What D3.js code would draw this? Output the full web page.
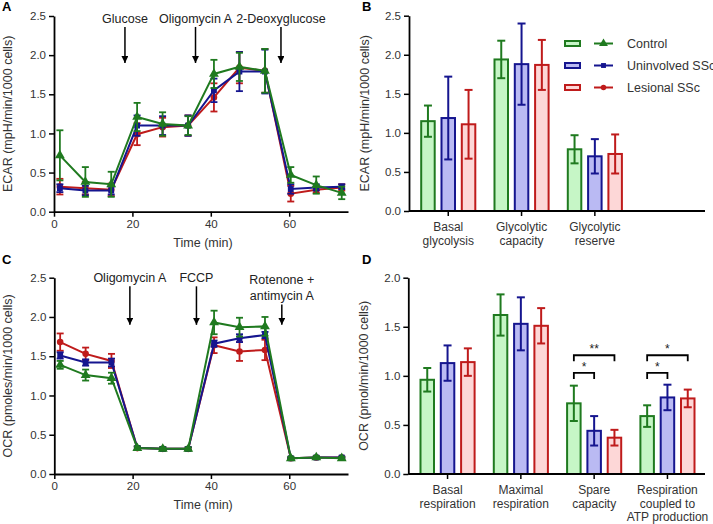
<!DOCTYPE html>
<html>
<head>
<meta charset="utf-8">
<script src="https://cdn.jsdelivr.net/npm/d3@7"></script>
<style>
  body { margin: 0; background: #fff; }
  text { font-family: Arial, "Liberation Sans", sans-serif; }
</style>
</head>
<body>
<div id="vis"></div>
<script>
// groups and styles
const groups = ["Control", "Uninvolved SSc", "Lesional SSc"];
const strokeColors = ["#1f7a1f", "#15158f", "#bf1b1b"];
const fillColors = ["#c6f6c6", "#babaf3", "#fdd7d7"];
const symbols = [d3.symbolTriangle, d3.symbolSquare, d3.symbolCircle];

// time points (min)
const times = [1.5, 8, 14.6, 21.2, 27.7, 34.2, 40.8, 47.3, 53.8, 60.4, 66.9, 73.4];

// panel A: ECAR time course
const ecarControl = [0.72, 0.38, 0.35, 1.21, 1.12, 1.10, 1.76, 1.85, 1.80, 0.47, 0.34, 0.24];
const ecarControlErr = [0.32, 0.19, 0.16, 0.18, 0.15, 0.12, 0.18, 0.18, 0.28, 0.10, 0.11, 0.08];
const ecarUninvolved = [0.30, 0.27, 0.27, 1.10, 1.10, 1.10, 1.55, 1.79, 1.79, 0.29, 0.31, 0.32];
const ecarUninvolvedErr = [0.05, 0.06, 0.05, 0.13, 0.12, 0.13, 0.15, 0.25, 0.28, 0.06, 0.04, 0.03];
const ecarLesional = [0.32, 0.30, 0.28, 0.99, 1.08, 1.10, 1.46, 1.84, 1.80, 0.23, 0.28, 0.31];
const ecarLesionalErr = [0.10, 0.08, 0.08, 0.14, 0.12, 0.13, 0.18, 0.20, 0.28, 0.10, 0.04, 0.04];

// panel C: OCR time course
const ocrControl = [1.39, 1.26, 1.22, 0.33, 0.32, 0.32, 1.93, 1.87, 1.88, 0.20, 0.21, 0.20];
const ocrControlErr = [0.05, 0.07, 0.07, 0.02, 0.02, 0.02, 0.15, 0.12, 0.12, 0.02, 0.02, 0.02];
const ocrUninvolved = [1.51, 1.42, 1.42, 0.33, 0.32, 0.32, 1.66, 1.73, 1.77, 0.20, 0.21, 0.21];
const ocrUninvolvedErr = [0.04, 0.04, 0.05, 0.02, 0.02, 0.02, 0.04, 0.05, 0.04, 0.01, 0.01, 0.01];
const ocrLesional = [1.68, 1.53, 1.44, 0.33, 0.32, 0.32, 1.64, 1.56, 1.58, 0.20, 0.21, 0.21];
const ocrLesionalErr = [0.11, 0.08, 0.09, 0.02, 0.02, 0.02, 0.10, 0.12, 0.13, 0.01, 0.01, 0.01];

// injections
const ecarArrows = [
  {t: 18.1, label: ["Glucose"], top: 2.36},
  {t: 36.1, label: ["Oligomycin A"], top: 2.36},
  {t: 57.9, label: ["2-Deoxyglucose"], top: 2.36}
];
const ocrArrows = [
  {t: 19.3, label: ["Oligomycin A"], top: 2.39},
  {t: 36.3, label: ["FCCP"], top: 2.39},
  {t: 58.1, label: ["Rotenone +", "antimycin A"], top: 2.16}
];

// panel B: glycolysis bars
const glycoCategories = [["Basal", "glycolysis"], ["Glycolytic", "capacity"], ["Glycolytic", "reserve"]];
const glycoControl = [1.15, 1.94, 0.79];
const glycoControlErr = [0.20, 0.24, 0.18];
const glycoUninvolved = [1.19, 1.88, 0.70];
const glycoUninvolvedErr = [0.53, 0.52, 0.22];
const glycoLesional = [1.11, 1.87, 0.73];
const glycoLesionalErr = [0.44, 0.32, 0.25];

// panel D: respiration bars
const respCategories = [["Basal", "respiration"], ["Maximal", "respiration"], ["Spare", "capacity"], ["Respiration", "coupled to", "ATP production"]];
const respControl = [0.96, 1.62, 0.72, 0.59];
const respControlErr = [0.12, 0.21, 0.18, 0.11];
const respUninvolved = [1.13, 1.53, 0.44, 0.78];
const respUninvolvedErr = [0.18, 0.27, 0.15, 0.13];
const respLesional = [1.14, 1.51, 0.37, 0.77];
const respLesionalErr = [0.14, 0.18, 0.08, 0.09];
const respSignif = [
  {cat: 2, from: 0, to: 1, y: 1.03, label: "*"},
  {cat: 2, from: 0, to: 2, y: 1.21, label: "**"},
  {cat: 3, from: 0, to: 1, y: 1.03, label: "*"},
  {cat: 3, from: 0, to: 2, y: 1.21, label: "*"}
];

const W = 713, H = 524;
const svg = d3.select("#vis").append("svg")
  .attr("width", W).attr("height", H)
  .attr("viewBox", [0, 0, W, H].join(" "));

// arrow head marker
svg.append("defs").append("marker")
  .attr("id", "head")
  .attr("viewBox", "0 0 10 10")
  .attr("refX", 10).attr("refY", 5)
  .attr("markerWidth", 7).attr("markerHeight", 7)
  .attr("markerUnits", "userSpaceOnUse")
  .attr("orient", "auto")
  .append("path").attr("d", "M0,0L10,5L0,10Z").attr("fill", "#000");

function styleAxis(g) {
  g.selectAll(".domain").attr("stroke", "#000").attr("stroke-width", 1.8);
  g.selectAll(".tick line").attr("stroke", "#000").attr("stroke-width", 1.5);
  g.selectAll(".tick text").attr("fill", "#333").attr("font-size", 11.5);
}

function yAxis(y, x0, max) {
  const g = svg.append("g")
    .attr("transform", `translate(${x0},0)`)
    .call(d3.axisLeft(y).tickValues(d3.range(0, max + 0.01, 0.5)).tickFormat(d3.format(".1f")).tickSize(5).tickSizeOuter(0));
  styleAxis(g);
}

function yTitle(text, x, y) {
  const [a, b] = y.range();
  svg.append("text")
    .attr("transform", `translate(${x},${(a + b) / 2}) rotate(-90)`)
    .attr("text-anchor", "middle")
    .attr("font-size", 12.5).attr("fill", "#333")
    .text(text);
}

function panelLetter(t, x, y) {
  svg.append("text").attr("x", x).attr("y", y)
    .attr("font-size", 13).attr("font-weight", "bold").text(t);
}

// time course panels
function timePanel(series, arrows, x, y, title) {
  const axB = svg.append("g")
    .attr("transform", `translate(0,${y(0)})`)
    .call(d3.axisBottom(x).tickValues([0, 20, 40, 60]).tickSize(5).tickSizeOuter(0));
  styleAxis(axB);
  yAxis(y, x(0), 2.5);
  yTitle(title, 12, y);

  svg.append("text")
    .attr("x", (x.range()[0] + x.range()[1]) / 2 + 2)
    .attr("y", y(0) + 35)
    .attr("text-anchor", "middle").attr("font-size", 12.5).attr("fill", "#333")
    .text("Time (min)");

  // arrows
  arrows.forEach(a => {
    svg.append("line")
      .attr("x1", x(a.t)).attr("x2", x(a.t))
      .attr("y1", y(a.top)).attr("y2", y(1.90))
      .attr("stroke", "#000").attr("stroke-width", 1.5)
      .attr("marker-end", "url(#head)");
    const n = a.label.length;
    a.label.forEach((l, i) => {
      svg.append("text")
        .attr("x", x(a.t)).attr("y", y(a.top) - 4 - (n - 1 - i) * 16)
        .attr("text-anchor", "middle").attr("font-size", 12.5).attr("fill", "#222")
        .text(l);
    });
  });

  const line = d3.line().x(d => x(d.t)).y(d => y(d.v));
  const order = [2, 1, 0];
  order.forEach(gi => {
    const s = series[gi];
    const pts = times.map((t, i) => ({t, v: s.v[i], e: s.e[i]}));
    const g = svg.append("g").attr("stroke", strokeColors[gi]).attr("fill", strokeColors[gi]);
    g.append("path").datum(pts).attr("d", line).attr("fill", "none").attr("stroke-width", 2);
    const eb = g.selectAll("g.eb").data(pts).join("g");
    eb.append("line")
      .attr("x1", d => x(d.t)).attr("x2", d => x(d.t))
      .attr("y1", d => y(d.v - d.e)).attr("y2", d => y(d.v + d.e))
      .attr("stroke-width", 1.8);
    eb.selectAll("line.cap").data(d => [d.v - d.e, d.v + d.e].map(v => ({t: d.t, v})))
      .join("line").attr("class", "cap")
      .attr("x1", d => x(d.t) - 3.5).attr("x2", d => x(d.t) + 3.5)
      .attr("y1", d => y(d.v)).attr("y2", d => y(d.v))
      .attr("stroke-width", 1.8);
    g.selectAll("path.pt").data(pts).join("path").attr("class", "pt")
      .attr("d", d3.symbol(symbols[gi], gi === 0 ? 42 : 34))
      .attr("transform", d => `translate(${x(d.t)},${y(d.v)})`)
      .attr("stroke", "none");
  });
}

// bar panels
function barPanel(cats, vals, errs, x0, xEnd, y, max, title, step) {
  const x = d3.scaleBand().domain(d3.range(cats.length)).range([x0 + 2.6, x0 + 2.6 + step * cats.length]);
  const xi = d3.scalePoint().domain(d3.range(groups.length)).range([-20.3, 20.3]);
  const bw = 13.5;
  const center = i => x(i) + x.bandwidth() / 2;

  groups.forEach((gname, gi) => {
    const data = cats.map((c, i) => ({i, v: vals[gi][i], e: errs[gi][i]}));
    const g = svg.append("g");
    g.selectAll("rect").data(data).join("rect")
      .attr("x", d => center(d.i) + xi(gi) - bw / 2)
      .attr("y", d => y(d.v))
      .attr("width", bw)
      .attr("height", d => y(0) - y(d.v))
      .attr("fill", fillColors[gi])
      .attr("stroke", strokeColors[gi]).attr("stroke-width", 2);
    g.selectAll("line.v").data(data).join("line").attr("class", "v")
      .attr("x1", d => center(d.i) + xi(gi)).attr("x2", d => center(d.i) + xi(gi))
      .attr("y1", d => y(d.v - d.e)).attr("y2", d => y(d.v + d.e))
      .attr("stroke", strokeColors[gi]).attr("stroke-width", 2);
    g.selectAll("line.c").data(data.flatMap(d => [{i: d.i, v: d.v - d.e}, {i: d.i, v: d.v + d.e}]))
      .join("line").attr("class", "c")
      .attr("x1", d => center(d.i) + xi(gi) - 4).attr("x2", d => center(d.i) + xi(gi) + 4)
      .attr("y1", d => y(d.v)).attr("y2", d => y(d.v))
      .attr("stroke", strokeColors[gi]).attr("stroke-width", 2);
  });

  const axB = svg.append("g")
    .attr("transform", `translate(0,${y(0)})`)
    .call(d3.axisBottom(x).tickFormat("").tickSize(5).tickSizeOuter(0));
  axB.select(".domain").attr("d", `M${x0},0H${xEnd}`);
  styleAxis(axB);
  yAxis(y, x0, max);
  yTitle(title, x0 - 40, y);

  cats.forEach((lines, i) => {
    lines.forEach((l, k) => {
      svg.append("text")
        .attr("x", center(i)).attr("y", y(0) + 20 + k * 13.5)
        .attr("text-anchor", "middle").attr("font-size", 12).attr("fill", "#333")
        .text(l);
    });
  });
  return {center, xi};
}

// A
const xA = d3.scaleLinear().domain([0, 75]).range([54, 348]);
const yA = d3.scaleLinear().domain([0, 2.5]).range([211.7, 16]);
timePanel([
  {v: ecarControl, e: ecarControlErr},
  {v: ecarUninvolved, e: ecarUninvolvedErr},
  {v: ecarLesional, e: ecarLesionalErr}
], ecarArrows, xA, yA, "ECAR (mpH/min/1000 cells)");
panelLetter("A", 2, 11);

// C
const xC = d3.scaleLinear().domain([0, 75]).range([54.3, 348]);
const yC = d3.scaleLinear().domain([0, 2.5]).range([474, 277.7]);
timePanel([
  {v: ocrControl, e: ocrControlErr},
  {v: ocrUninvolved, e: ocrUninvolvedErr},
  {v: ocrLesional, e: ocrLesionalErr}
], ocrArrows, xC, yC, "OCR (pmoles/min/1000 cells)");
panelLetter("C", 2, 264);

// B
const yB = d3.scaleLinear().domain([0, 2.5]).range([211, 15.7]);
barPanel(glycoCategories,
  [glycoControl, glycoUninvolved, glycoLesional],
  [glycoControlErr, glycoUninvolvedErr, glycoLesionalErr],
  409, 705, yB, 2.5, "ECAR (mpH/min/1000 cells)", 73.3);
panelLetter("B", 362, 11);

// legend
const legend = svg.append("g").selectAll("g").data(groups).join("g")
  .attr("transform", (d, i) => `translate(565,${43.5 + i * 22})`);
legend.append("rect").attr("x", 0).attr("y", -2.5).attr("width", 15).attr("height", 5)
  .attr("fill", (d, i) => fillColors[i]).attr("stroke", (d, i) => strokeColors[i]).attr("stroke-width", 2);
legend.append("line").attr("x1", 29).attr("x2", 48).attr("y1", 0).attr("y2", 0)
  .attr("stroke", (d, i) => strokeColors[i]).attr("stroke-width", 2);
legend.append("path")
  .attr("d", (d, i) => d3.symbol(symbols[i], i === 0 ? 34 : 24)())
  .attr("transform", "translate(38.5,0)")
  .attr("fill", (d, i) => strokeColors[i]);
legend.append("text").attr("x", 62).attr("y", 0).attr("dy", "0.35em")
  .attr("font-size", 12.5).attr("fill", "#333").text(d => d);

// D
const yD = d3.scaleLinear().domain([0, 2.0]).range([474, 277.7]);
const dPos = barPanel(respCategories,
  [respControl, respUninvolved, respLesional],
  [respControlErr, respUninvolvedErr, respLesionalErr],
  408.3, 705, yD, 2.0, "OCR (pmol/min/1000 cells)", 73.3);
panelLetter("D", 362, 264);

// significance brackets
respSignif.forEach(s => {
  const xa = dPos.center(s.cat) + dPos.xi(s.from);
  const xb = dPos.center(s.cat) + dPos.xi(s.to);
  const yy = yD(s.y);
  svg.append("path")
    .attr("d", `M${xa},${yy + 6}V${yy}H${xb}V${yy + 6}`)
    .attr("fill", "none").attr("stroke", "#000").attr("stroke-width", 1.8);
  svg.append("text")
    .attr("x", (xa + xb) / 2).attr("y", yy - 2)
    .attr("text-anchor", "middle").attr("font-size", 12).attr("fill", "#222")
    .text(s.label);
});
</script>
</body>
</html>
